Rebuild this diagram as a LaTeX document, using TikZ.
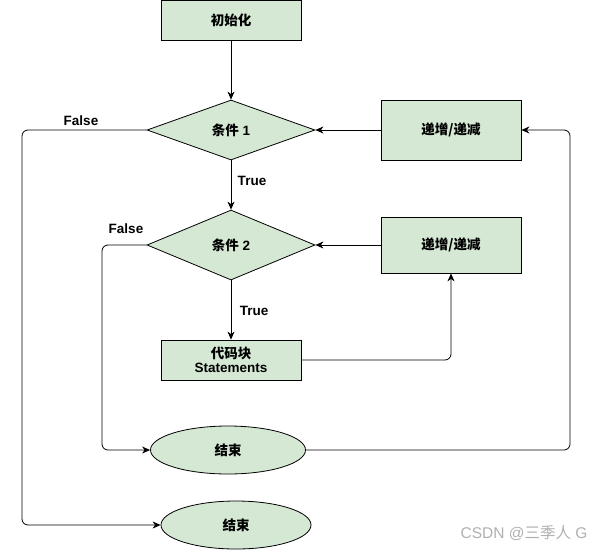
\documentclass[tikz,border=0pt]{standalone}
\usepackage{fontspec}
\setmainfont{Liberation Sans}
\newfontfamily\cjk{Noto Sans CJK SC}
\usetikzlibrary{shapes.geometric,arrows.meta}
\definecolor{boxgreen}{HTML}{D5E8D4}
\definecolor{wm}{HTML}{B0B0B0}
\begin{document}
\begin{tikzpicture}[x=1pt,y=-1pt,
  every node/.style={font=\fontsize{13.5}{16}\selectfont\bfseries},
  procbox/.style={draw=black,fill=boxgreen,minimum width=140pt,inner sep=0pt,align=center,line width=0.8pt},
  decision/.style={draw=black,fill=boxgreen,diamond,minimum width=168pt,minimum height=70pt,inner sep=0pt,line width=0.8pt},
  terminal/.style={draw=black,fill=boxgreen,ellipse,minimum width=155pt,minimum height=44pt,inner sep=0pt,line width=0.8pt},
  lbl/.style={font=\fontsize{13.5}{16}\selectfont\bfseries},
  conn/.style={draw=black,line width=0.8pt,rounded corners=6pt,-{Stealth[length=8pt,width=7pt,inset=2.5pt]}},
  plain/.style={draw=black,line width=0.8pt,rounded corners=6pt}]
\useasboundingbox (0,0) rectangle (604,551);

\node[procbox,minimum height=40pt] (init) at (231,20) {\cjk 初始化};
\node[decision,minimum height=60pt] (c1) at (231,130) {{\cjk 条件} 1};
\node[procbox,minimum height=60pt] (inc1) at (451,130) {\cjk 递增/递减};
\node[decision] (c2) at (231,245) {{\cjk 条件} 2};
\node[procbox,minimum height=56pt] (inc2) at (451,245) {\cjk 递增/递减};
\node[procbox,minimum height=40pt] (code) at (231,360) {{\cjk 代码块}\\[-1.5pt]Statements};
\node[terminal,minimum width=155pt,minimum height=48pt] (end1) at (228,450) {\cjk 结束};
\node[terminal,minimum width=150pt,minimum height=48pt] (end2) at (236,525) {\cjk 结束};

\node[lbl] (f1) at (81,121) {False};
\node[lbl] (t1) at (252,181) {True};
\node[lbl] (f2) at (126,229) {False};
\node[lbl] (t2) at (254,311) {True};

\coordinate (a1) at (22,130);
\coordinate (a2) at (22,525);
\coordinate (b1) at (102,245);
\coordinate (b2) at (102,450);
\coordinate (r1) at (570,450);
\coordinate (r2) at (570,130);
\coordinate (s1) at (451,360);

\draw[conn] (init) -- (c1);
\draw[conn] (c1) -- (c2);
\draw[conn] (c2) -- (code);
\draw[conn] (inc1) -- (c1);
\draw[conn] (inc2) -- (c2);
\draw[conn] (c1.west) -- (a1) -- (a2) -- (end2.west);
\draw[conn] (c2.west) -- (b1) -- (b2) -- (end1.west);
\draw[conn] (end1.east) -- (r1) -- (r2) -- (inc1.east);
\draw[conn] (code.east) -- (s1) -- (inc2.south);

\node[font=\fontsize{15.5}{18}\selectfont,text=wm,anchor=east] (wmk) at (591,533) {CSDN @{\cjk 三季人} G};
\end{tikzpicture}
\end{document}
